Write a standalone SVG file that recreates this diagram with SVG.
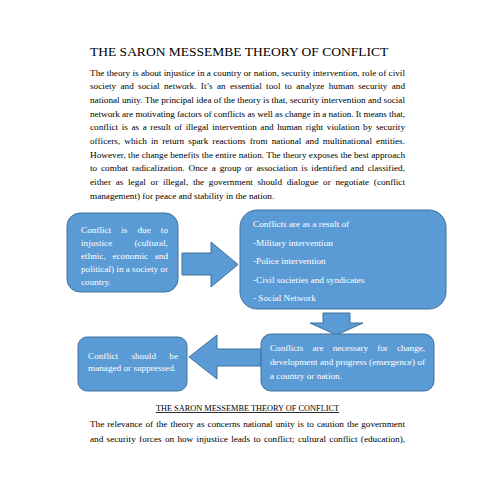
<svg xmlns="http://www.w3.org/2000/svg" width="495" height="495" viewBox="0 0 495 495">
<style>
.t{font-family:"Liberation Serif","Times New Roman",serif;font-size:9.2px;fill:#000}
.w{fill:#fff}
.h{font-size:13.5px}
.cap{font-size:8.3px;text-decoration:underline}
.box{fill:#5B9BD5;stroke:#41719C;stroke-width:1}
</style>
<rect width="495" height="495" fill="#fff"/>
<g id="text-top">
<text class="t h" x="90" y="56">THE SARON MESSEMBE THEORY OF CONFLICT</text>
<text class="t" x="90" y="75.5" textLength="315" lengthAdjust="spacing">The theory is about injustice in a country or nation, security intervention, role of civil</text>
<text class="t" x="90" y="89.2" word-spacing="1.96" textLength="315" lengthAdjust="spacing">society and social network. It’s an essential tool to analyze human security and</text>
<text class="t" x="90" y="102.9" textLength="315" lengthAdjust="spacing">national unity. The principal idea of the theory is that, security intervention and social</text>
<text class="t" x="90" y="116.6" textLength="315" lengthAdjust="spacing">network are motivating factors of conflicts as well as change in a nation. It means that,</text>
<text class="t" x="90" y="130.3" word-spacing="1.29" textLength="315" lengthAdjust="spacing">conflict is as a result of illegal intervention and human right violation by security</text>
<text class="t" x="90" y="144" word-spacing="1.81" textLength="315" lengthAdjust="spacing">officers, which in return spark reactions from national and multinational entities.</text>
<text class="t" x="90" y="157.7" textLength="315" lengthAdjust="spacing">However, the change benefits the entire nation. The theory exposes the best approach</text>
<text class="t" x="90" y="171.4" word-spacing="1.46" textLength="315" lengthAdjust="spacing">to combat radicalization. Once a group or association is identified and classified,</text>
<text class="t" x="90" y="185.1" word-spacing="2.39" textLength="315" lengthAdjust="spacing">either as legal or illegal, the government should dialogue or negotiate (conflict</text>
<text class="t" x="90" y="198.8">management) for peace and stability in the nation.</text>
</g>
<g id="connectors">
<polygon id="arrow-right" class="box" points="182,253 211,253 211,242 238,264.5 211,287 211,275 182,275"/>
<polygon id="arrow-down" class="box" points="323,313 350,313 350,323 363,323 336.5,335 310,323 323,323"/>
<polygon id="arrow-left" class="box" points="261,349 217,349 217,335 189,357 217,379 217,366 261,366"/>
</g>
<g id="node-injustice">
<rect class="box" x="67" y="213" width="111" height="79" rx="13"/>
<text class="t w" x="81" y="232.5" word-spacing="7.8" textLength="87" lengthAdjust="spacing">Conflict is due to</text>
<text class="t w" x="81" y="245.5" word-spacing="20" textLength="87" lengthAdjust="spacing">injustice (cultural,</text>
<text class="t w" x="81" y="258.5" word-spacing="4.3" textLength="87" lengthAdjust="spacing">ethnic, economic and</text>
<text class="t w" x="81" y="271.5" textLength="87" lengthAdjust="spacing">political) in a society or</text>
<text class="t w" x="81" y="284.5">country.</text>
</g>
<g id="node-causes">
<rect class="box" x="240" y="210" width="206" height="99" rx="17"/>
<text class="t w" x="253" y="227">Conflicts are as a result of</text>
<text class="t w" x="253" y="245.5">-Military intervention</text>
<text class="t w" x="253" y="264">-Police intervention</text>
<text class="t w" x="253" y="282.5">-Civil societies and syndicates</text>
<text class="t w" x="253" y="301">- Social Network</text>
</g>
<g id="node-necessary">
<rect class="box" x="261" y="334" width="173" height="57" rx="10"/>
<text class="t w" x="270" y="350.5" word-spacing="6.96" textLength="155" lengthAdjust="spacing">Conflicts are necessary for change,</text>
<text class="t w" x="270" y="365" textLength="155" lengthAdjust="spacing">development and progress (emergence) of</text>
<text class="t w" x="270" y="379">a country or nation.</text>
</g>
<g id="node-managed">
<rect class="box" x="78" y="337" width="109" height="54" rx="9"/>
<text class="t w" x="88" y="358.5" word-spacing="11" textLength="90" lengthAdjust="spacing">Conflict should be</text>
<text class="t w" x="88" y="371">managed or suppressed.</text>
</g>
<g id="text-bottom">
<text class="t cap" x="247.5" y="411" text-anchor="middle">THE SARON MESSEMBE THEORY OF CONFLICT</text>
<text class="t" x="90" y="426.5" word-spacing="0.8" textLength="315" lengthAdjust="spacing">The relevance of the theory as concerns national unity is to caution the government</text>
<text class="t" x="90" y="442" word-spacing="1.04" textLength="315" lengthAdjust="spacing">and security forces on how injustice leads to conflict; cultural conflict (education),</text>
</g>
</svg>
